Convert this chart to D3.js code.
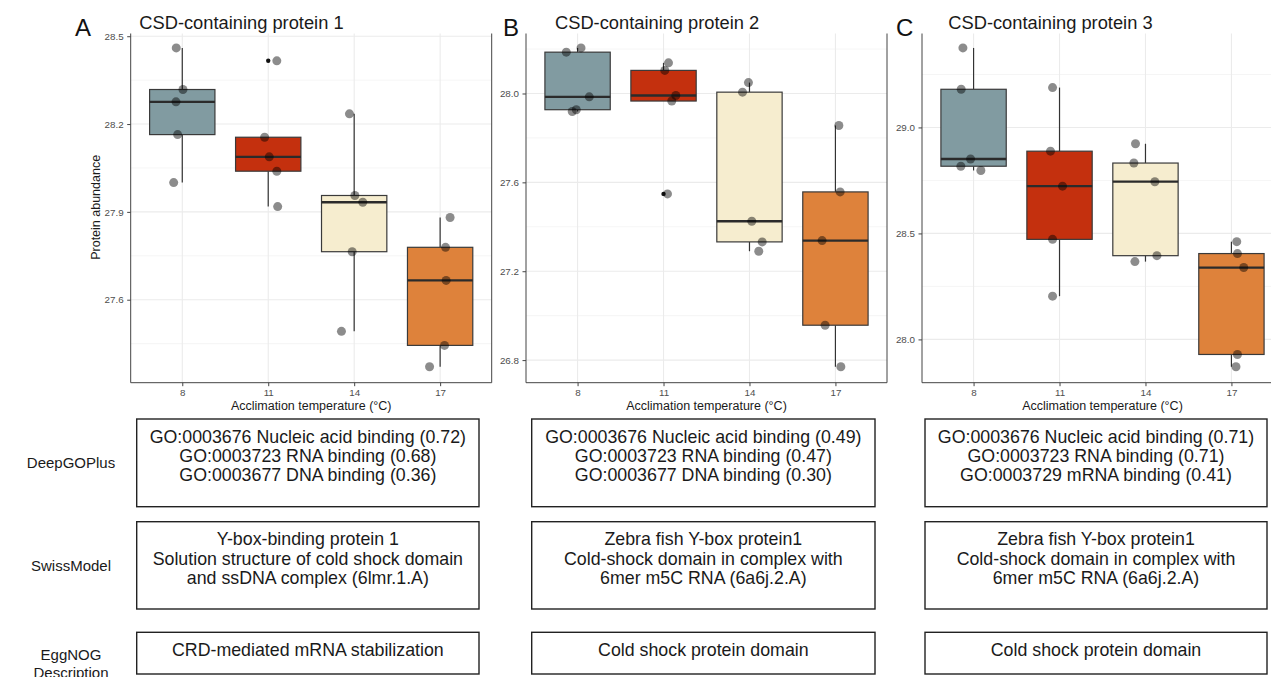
<!DOCTYPE html>
<html><head><meta charset="utf-8">
<script src="https://cdn.jsdelivr.net/npm/d3@7"></script>
<style>body{margin:0;background:#fff}svg{display:block}</style>
</head><body><svg id="c" width="1271" height="677"></svg>
<script>
// ---------------- DATA ----------------
const temps = ["8", "11", "14", "17"];
const tempFills = ["#819ba1", "#c4300e", "#f6edcf", "#de823b"];
const panelLetters = ["A", "B", "C"];
const panelTitles = ["CSD-containing protein 1", "CSD-containing protein 2", "CSD-containing protein 3"];

// protein abundance per temperature (5 replicates)
const abundance1 = [
  [28.46, 28.318, 28.276, 28.164, 28.0],
  [28.155, 28.088, 28.039, 27.918, 28.416],
  [28.235, 27.956, 27.933, 27.764, 27.492],
  [27.881, 27.779, 27.666, 27.444, 27.371]
];
const jitter1 = [
  [-0.07, 0.008, -0.073, -0.054, -0.10],
  [-0.042, 0.012, 0.10, 0.11, 0.10],
  [-0.055, 0.008, 0.10, -0.023, -0.148],
  [0.116, 0.063, 0.07, 0.051, -0.123]
];
const abundance2 = [
  [28.186, 28.205, 27.985, 27.919, 27.927],
  [28.138, 28.104, 27.991, 27.966, 27.548],
  [28.049, 28.006, 27.425, 27.332, 27.29],
  [27.856, 27.557, 27.338, 26.957, 26.77]
];
const jitter2 = [
  [-0.131, 0.04, 0.136, -0.062, -0.015],
  [0.058, 0.015, 0.143, 0.096, 0.046],
  [-0.012, -0.081, 0.027, 0.148, 0.108],
  [0.04, 0.055, -0.155, -0.12, 0.063]
];
const abundance3 = [
  [29.375, 29.18, 28.851, 28.817, 28.797],
  [29.188, 28.888, 28.723, 28.472, 28.204],
  [28.923, 28.832, 28.744, 28.395, 28.367],
  [28.461, 28.405, 28.339, 27.929, 27.871]
];
const jitter3 = [
  [-0.124, -0.144, -0.035, -0.148, 0.085],
  [-0.081, -0.105, 0.035, -0.081, -0.081],
  [-0.116, -0.135, 0.109, 0.133, -0.123],
  [0.062, 0.07, 0.143, 0.07, 0.053]
];
const yTicks1 = [27.6, 27.9, 28.2, 28.5];
const yTicks2 = [26.8, 27.2, 27.6, 28.0];
const yTicks3 = [28.0, 28.5, 29.0];

const xAxisTitle = "Acclimation temperature (°C)";
const yAxisTitle = "Protein abundance";

const rowLabels = [["DeepGOPlus"], ["SwissModel"], ["EggNOG", "Description"]];
const deepGOText = [
  ["GO:0003676 Nucleic acid binding (0.72)", "GO:0003723 RNA binding (0.68)", "GO:0003677 DNA binding (0.36)"],
  ["GO:0003676 Nucleic acid binding (0.49)", "GO:0003723 RNA binding (0.47)", "GO:0003677 DNA binding (0.30)"],
  ["GO:0003676 Nucleic acid binding (0.71)", "GO:0003723 RNA binding (0.71)", "GO:0003729 mRNA binding (0.41)"]
];
const swissText = [
  ["Y-box-binding protein 1", "Solution structure of cold shock domain", "and ssDNA complex (6lmr.1.A)"],
  ["Zebra fish Y-box protein1", "Cold-shock domain in complex with", "6mer m5C RNA (6a6j.2.A)"],
  ["Zebra fish Y-box protein1", "Cold-shock domain in complex with", "6mer m5C RNA (6a6j.2.A)"]
];
const eggnogText = [
  ["CRD-mediated mRNA stabilization"],
  ["Cold shock protein domain"],
  ["Cold shock protein domain"]
];

// ---------------- DRAW ----------------
const FONT = "'Liberation Sans', Arial, Helvetica, sans-serif";
const svg = d3.select("#c").style("font-family", FONT);
svg.append("rect").attr("width", 1271).attr("height", 677).attr("fill", "#fff");

const panels = [
  {vals: abundance1, jit: jitter1, ticks: yTicks1, left: 130.7, title: 139.3, letter: 75},
  {vals: abundance2, jit: jitter2, ticks: yTicks2, left: 526, title: 555, letter: 503},
  {vals: abundance3, jit: jitter3, ticks: yTicks3, left: 922, title: 948.3, letter: 896}
];
const pW = 361, pBottom = 382.7, pTop = 32;

panels.forEach((p, pi) => {
  const g = svg.append("g");
  const all = p.vals.flat();
  const [mn, mx] = d3.extent(all);
  const pad = (mx - mn) * 0.05;
  const y = d3.scaleLinear().domain([mn - pad, mx + pad]).range([pBottom, pTop]);
  const x = d3.scalePoint().domain(temps).range([p.left, p.left + pW]).padding(0.6);
  const step = x.step();

  // minor gridlines
  const tstep = p.ticks[1] - p.ticks[0];
  const minor = [];
  for (let v = p.ticks[0] - tstep / 2; v <= mx + pad; v += tstep) if (v >= mn - pad) minor.push(v);
  g.selectAll(".mg").data(minor).join("line")
    .attr("x1", p.left).attr("x2", p.left + pW)
    .attr("y1", d => y(d)).attr("y2", d => y(d))
    .attr("stroke", "#f3f3f3").attr("stroke-width", 0.8);
  g.selectAll(".Mg").data(p.ticks).join("line")
    .attr("x1", p.left).attr("x2", p.left + pW)
    .attr("y1", d => y(d)).attr("y2", d => y(d))
    .attr("stroke", "#ebebeb").attr("stroke-width", 1.1);
  g.selectAll(".vg").data(temps).join("line")
    .attr("x1", d => x(d)).attr("x2", d => x(d))
    .attr("y1", pTop).attr("y2", pBottom)
    .attr("stroke", "#ebebeb").attr("stroke-width", 1.1);

  // boxplots
  const bw = 0.76 * step;
  p.vals.forEach((vals, i) => {
    const s = vals.slice().sort(d3.ascending);
    const q1 = d3.quantile(s, 0.25), med = d3.quantile(s, 0.5), q3 = d3.quantile(s, 0.75);
    const iqr = q3 - q1;
    const inl = s.filter(v => v >= q1 - 1.5 * iqr && v <= q3 + 1.5 * iqr);
    const lo = d3.min(inl), hi = d3.max(inl);
    const out = s.filter(v => v < q1 - 1.5 * iqr || v > q3 + 1.5 * iqr);
    const cx = x(temps[i]);
    g.append("line").attr("x1", cx).attr("x2", cx).attr("y1", y(q3)).attr("y2", y(hi))
      .attr("stroke", "#333").attr("stroke-width", 1.2);
    g.append("line").attr("x1", cx).attr("x2", cx).attr("y1", y(q1)).attr("y2", y(lo))
      .attr("stroke", "#333").attr("stroke-width", 1.2);
    g.append("rect").attr("x", cx - bw / 2).attr("width", bw)
      .attr("y", y(q3)).attr("height", y(q1) - y(q3))
      .attr("fill", tempFills[i]).attr("stroke", "#3a3a3a").attr("stroke-width", 1.2);
    g.append("line").attr("x1", cx - bw / 2).attr("x2", cx + bw / 2)
      .attr("y1", y(med)).attr("y2", y(med))
      .attr("stroke", "#2b2b2b").attr("stroke-width", 2.3);
    g.selectAll(null).data(out).join("circle")
      .attr("cx", cx).attr("cy", d => y(d)).attr("r", 2.2).attr("fill", "#111");
  });

  // jittered points
  p.vals.forEach((vals, i) => {
    g.selectAll(null).data(vals.map((v, k) => [v, p.jit[i][k]])).join("circle")
      .attr("cx", d => x(temps[i]) + d[1] * step)
      .attr("cy", d => y(d[0]))
      .attr("r", 4.5)
      .attr("fill", "#000").attr("fill-opacity", 0.45);
  });

  // right border
  g.append("line").attr("x1", p.left + pW).attr("x2", p.left + pW).attr("y1", pTop).attr("y2", pBottom)
    .attr("stroke", "#444").attr("stroke-width", 1);

  // axes
  const ya = g.append("g").attr("transform", `translate(${p.left},0)`)
    .call(d3.axisLeft(y).tickValues(p.ticks).tickFormat(d3.format(".1f")).tickSize(3.5).tickPadding(3.5));
  ya.select(".domain").attr("d", `M0,${pTop}V${pBottom}`).attr("stroke", "#444");
  ya.selectAll(".tick line").attr("stroke", "#444");
  ya.selectAll(".tick text").attr("fill", "#4d4d4d").style("font-size", "9.8px").style("font-family", FONT);

  const xa = g.append("g").attr("transform", `translate(0,${pBottom})`)
    .call(d3.axisBottom(x).tickSize(3.5).tickPadding(3));
  xa.select(".domain").attr("d", `M${p.left},0H${p.left + pW}`).attr("stroke", "#444");
  xa.selectAll(".tick line").attr("stroke", "#444");
  xa.selectAll(".tick text").attr("fill", "#4d4d4d").style("font-size", "9.8px").style("font-family", FONT);

  g.append("text").attr("x", p.left + pW / 2).attr("y", 410)
    .attr("text-anchor", "middle").style("font-size", "12.5px").attr("fill", "#1a1a1a")
    .text(xAxisTitle);
  if (pi === 0) {
    g.append("text").attr("transform", `translate(99.5,${(pTop + pBottom) / 2}) rotate(-90)`)
      .attr("text-anchor", "middle").style("font-size", "12.5px").attr("fill", "#1a1a1a")
      .text(yAxisTitle);
  }
});

// top mask (plot image clipped at top)
svg.append("rect").attr("x", 0).attr("y", 0).attr("width", 1271).attr("height", 33.5).attr("fill", "#fff");

panels.forEach((p, pi) => {
  svg.append("text").attr("x", p.letter).attr("y", 36).style("font-size", "24px").attr("fill", "#111")
    .text(panelLetters[pi]);
  svg.append("text").attr("x", p.title).attr("y", 29.3).style("font-size", "18.3px").attr("fill", "#1a1a1a")
    .text(panelTitles[pi]);
});

// annotation boxes
const boxCols = [[136.7, 479], [531.7, 875], [925, 1267]];
const boxRows = [[419, 506.7], [521.7, 609], [632.3, 674]];
const rowTexts = [deepGOText, swissText, eggnogText];
boxRows.forEach((r, ri) => {
  boxCols.forEach((c, ci) => {
    svg.append("rect").attr("x", c[0]).attr("y", r[0]).attr("width", c[1] - c[0]).attr("height", r[1] - r[0])
      .attr("fill", "none").attr("stroke", "#222").attr("stroke-width", 1.4);
    svg.append("text").attr("text-anchor", "middle").style("font-size", "17.8px").attr("fill", "#1a1a1a")
      .selectAll("tspan").data(rowTexts[ri][ci]).join("tspan")
      .attr("x", (c[0] + c[1]) / 2).attr("y", (d, k) => r[0] + 23.5 + k * 19.3)
      .text(d => d);
  });
  const lbl = rowLabels[ri];
  const cy = ri < 2 ? (r[0] + r[1]) / 2 + 5.5 : 660;
  svg.append("text").attr("text-anchor", "middle").style("font-size", "15px").attr("fill", "#1a1a1a")
    .selectAll("tspan").data(lbl).join("tspan")
    .attr("x", 71).attr("y", (d, k) => cy + k * 18)
    .text(d => d);
});
</script>
</body></html>
